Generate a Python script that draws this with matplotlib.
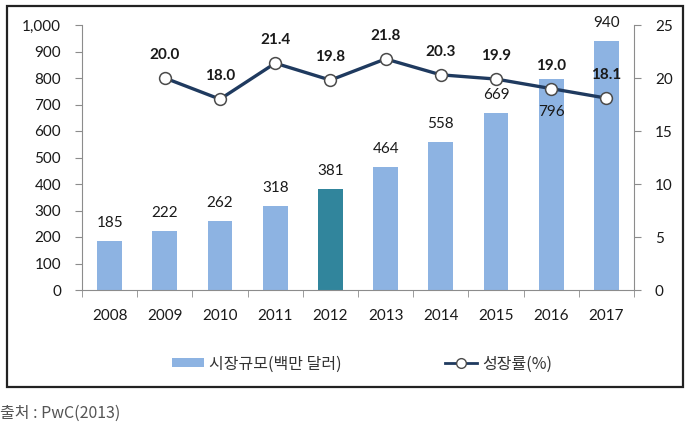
import matplotlib
matplotlib.use("Agg")
import matplotlib.pyplot as plt
from matplotlib.patches import Rectangle
from matplotlib.lines import Line2D
from matplotlib.patches import Patch
import numpy as np

plt.rcParams['font.family'] = ['Lato', 'Noto Sans CJK KR', 'DejaVu Sans']

years = ['2008', '2009', '2010', '2011', '2012', '2013', '2014', '2015', '2016', '2017']
market = [185, 222, 262, 318, 381, 464, 558, 669, 796, 940]
growth_years = ['2009', '2010', '2011', '2012', '2013', '2014', '2015', '2016', '2017']
growth = [20.0, 18.0, 21.4, 19.8, 21.8, 20.3, 19.9, 19.0, 18.1]
bar_label = '시장규모(백만 달러)'
line_label = '성장률(%)'
source = '출처 : PwC(2013)'

W, H = 693, 425
fig = plt.figure(figsize=(W / 100, H / 100), dpi=100)

# outer frame
fig.patches.append(Rectangle((7 / W, 1 - 387 / H), (683 - 7) / W, (387 - 6) / H,
                             transform=fig.transFigure, fill=False,
                             edgecolor='#222222', linewidth=1.6))

ax = fig.add_axes([82 / W, 1 - 290 / H, (634 - 82) / W, (290 - 25) / H])
ax2 = ax.twinx()

x = np.arange(len(years))
colors = ['#31859C' if y == '2012' else '#8DB3E2' for y in years]
bars = ax.bar(x, market, width=0.45, color=colors, zorder=2)
ax.set_xlim(-0.5, len(years) - 0.5)
ax.set_ylim(0, 1000)
ax.set_yticks(np.arange(0, 1001, 100))
ax.set_yticklabels([f'{v:,}' for v in range(0, 1001, 100)])
ax.set_xticks(x)
ax.set_xticklabels(years)
ax.set_xticks(np.arange(-0.5, len(years), 1), minor=True)

spine_c = '#8C8C8C'
for a in (ax, ax2):
    a.spines['top'].set_visible(False)
    a.spines['left'].set_color(spine_c)
    a.spines['right'].set_color(spine_c)
    a.spines['bottom'].set_color(spine_c)
ax.spines['right'].set_visible(False)
ax2.spines['left'].set_visible(False)
ax2.spines['bottom'].set_visible(False)

fs = 11
ax.tick_params(axis='x', which='major', length=0, pad=14, labelsize=fs, labelcolor='#1a1a1a')
ax.tick_params(axis='x', which='minor', length=5, color=spine_c, direction='out')
ax.tick_params(axis='y', length=5, color=spine_c, pad=10, labelsize=fs, labelcolor='#1a1a1a')

for i, v in enumerate(market):
    if years[i] == '2016':
        ax.annotate(f'{v}', (i, v), xytext=(0, -33), textcoords='offset pixels',
                    ha='center', va='center', fontsize=fs, color='#1a1a1a', zorder=5)
    else:
        ax.annotate(f'{v}', (i, v), xytext=(0, 18), textcoords='offset pixels',
                    ha='center', va='center', fontsize=fs, color='#1a1a1a', zorder=5)

gx = [years.index(y) for y in growth_years]
ax2.plot(gx, growth, color='#1F3A5F', linewidth=2.4, marker='o', markersize=8.5,
         markerfacecolor='white', markeredgecolor='#4a4a4a', markeredgewidth=1.1, zorder=4)
ax2.set_ylim(0, 25)
ax2.set_yticks(np.arange(0, 26, 5))
ax2.tick_params(axis='y', length=5, color=spine_c, pad=10, labelsize=fs, labelcolor='#1a1a1a')
for xi, v in zip(gx, growth):
    ax2.annotate(f'{v:.1f}', (xi, v), xytext=(0, 23), textcoords='offset pixels',
                 ha='center', va='center', fontsize=fs, fontweight='bold', color='#1a1a1a')

# legend
handles = [Patch(facecolor='#8DB3E2', edgecolor='none'),
           Line2D([0], [0], color='#1F3A5F', linewidth=2.0, marker='o', markersize=7,
                  markerfacecolor='white', markeredgecolor='#4a4a4a', markeredgewidth=1.0)]
fig.legend(handles, [bar_label, line_label], loc='center', bbox_to_anchor=(362 / W, 1 - 364 / H),
           ncol=2, frameon=False, handlelength=2.0, handleheight=0.5, handletextpad=0.3,
           columnspacing=6.5, labelcolor='#333333',
           prop={'family': ['Noto Sans CJK KR', 'DejaVu Sans'], 'size': 11.5})

fig.text(0 / W, 1 - 413 / H, source, ha='left', va='center', fontsize=11.5, color='#555555',
         family=['Noto Sans CJK KR', 'DejaVu Sans'])

fig.savefig('out.png', dpi=100)
